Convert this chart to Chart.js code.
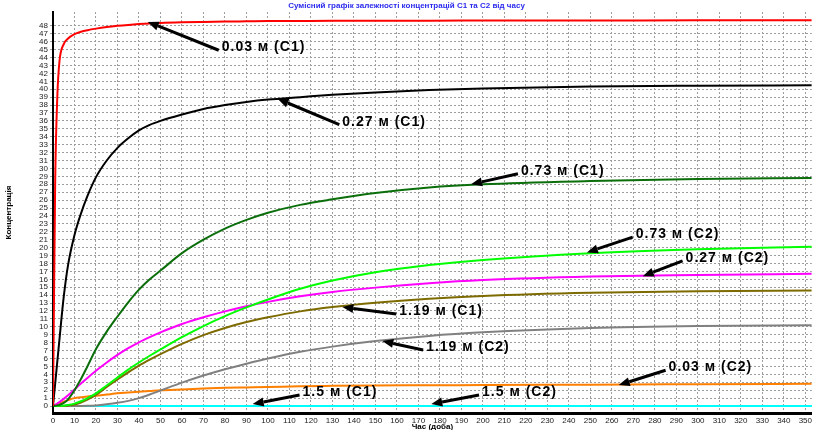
<!DOCTYPE html>
<html>
<head>
<meta charset="utf-8">
<script src="https://cdn.jsdelivr.net/npm/chart.js"></script>
<style>
  html, body { margin: 0; padding: 0; background: #fff; }
  #wrap { width: 813px; height: 430px; }
</style>
</head>
<body>
<div id="wrap"><canvas id="chart" width="813" height="430"></canvas></div>
<script>
// time points (days)
const days = [0, 1, 2, 3, 5, 7, 10, 13, 16, 20, 25, 30, 35, 40, 45, 50, 60, 70, 80, 90, 100, 115, 130, 150, 175, 200, 250, 300, 353];

// concentration curves
const c1_003 = [0, 28, 39, 43.5, 45.7, 46.4, 46.95, 47.25, 47.45, 47.65, 47.85, 48, 48.12, 48.22, 48.3, 48.37, 48.45, 48.5, 48.54, 48.57, 48.6, 48.62, 48.64, 48.65, 48.66, 48.67, 48.68, 48.7, 48.7];
const c1_027 = [0, 2.8, 5.6, 8.4, 13.8, 17.8, 21.6, 24.3, 26.5, 28.9, 31, 32.6, 33.8, 34.8, 35.5, 36, 36.8, 37.5, 38, 38.4, 38.7, 39, 39.3, 39.6, 39.9, 40.1, 40.35, 40.45, 40.5];
const c1_073 = [0, 0.03, 0.08, 0.15, 0.4, 0.85, 2, 3.4, 5, 7.2, 9.4, 11.3, 13.1, 14.7, 16, 17.1, 19.3, 21, 22.4, 23.5, 24.4, 25.4, 26.1, 26.9, 27.6, 28, 28.4, 28.65, 28.8];
const c2_073 = [0, 0, 0.01, 0.02, 0.05, 0.12, 0.3, 0.6, 1, 1.6, 2.6, 3.6, 4.6, 5.5, 6.35, 7.15, 8.7, 10.1, 11.35, 12.45, 13.45, 14.8, 15.85, 16.9, 17.8, 18.45, 19.3, 19.8, 20.1];
const c2_027 = [0, 0.15, 0.32, 0.5, 0.9, 1.35, 2.1, 2.85, 3.55, 4.45, 5.5, 6.45, 7.3, 8.05, 8.7, 9.3, 10.35, 11.2, 11.95, 12.6, 13.15, 13.85, 14.4, 14.95, 15.5, 15.9, 16.35, 16.55, 16.7];
const c1_119 = [0, 0, 0, 0, 0.03, 0.08, 0.2, 0.45, 0.8, 1.4, 2.4, 3.35, 4.25, 5.1, 5.85, 6.55, 7.85, 8.95, 9.85, 10.6, 11.2, 11.95, 12.5, 13.05, 13.55, 13.9, 14.3, 14.5, 14.6];
const c2_119 = [0, 0, 0, 0, 0, 0, 0, 0, 0.02, 0.08, 0.22, 0.4, 0.65, 1, 1.45, 1.95, 2.95, 3.85, 4.65, 5.35, 6, 6.85, 7.5, 8.2, 8.85, 9.3, 9.85, 10.1, 10.2];
const c2_003 = [0, 0.12, 0.25, 0.35, 0.55, 0.75, 1, 1.1, 1.2, 1.3, 1.45, 1.6, 1.7, 1.8, 1.9, 2, 2.1, 2.2, 2.3, 2.35, 2.4, 2.5, 2.55, 2.6, 2.62, 2.65, 2.7, 2.75, 2.8];
const c1_15 = [0, 0, 0, 0, 0, 0, 0, 0, 0, 0, 0, 0, 0, 0, 0, 0, 0, 0, 0, 0, 0, 0, 0, 0, 0, 0, 0, 0, 0];
const c2_15 = [0, 0, 0, 0, 0, 0, 0, 0, 0, 0, 0, 0, 0, 0, 0, 0, 0, 0, 0, 0, 0, 0, 0, 0, 0, 0, 0, 0, 0];

// axis ticks
const xTicks = [0, 10, 20, 30, 40, 50, 60, 70, 80, 90, 100, 110, 120, 130, 140, 150, 160, 170, 180, 190, 200, 210, 220, 230, 240, 250, 260, 270, 280, 290, 300, 310, 320, 330, 340, 350];
const yTicks = [0, 1, 2, 3, 4, 5, 6, 7, 8, 9, 10, 11, 12, 13, 14, 15, 16, 17, 18, 19, 20, 21, 22, 23, 24, 25, 26, 27, 28, 29, 30, 31, 32, 33, 34, 35, 36, 37, 38, 39, 40, 41, 42, 43, 44, 45, 46, 47, 48];

// callout labels: text anchor [day, conc] and arrow tip [day, conc]
const callouts = [
  { text: '0.03 м (С1)', at: [78.5, 45.3], tip: [44.1, 48.5] },
  { text: '0.27 м (С1)', at: [134.6, 35.9], tip: [104.5, 38.8] },
  { text: '0.73 м (С1)', at: [217.7, 29.7], tip: [194.5, 28.0] },
  { text: '0.73 м (С2)', at: [271.1, 21.7], tip: [248.4, 19.4] },
  { text: '0.27 м (С2)', at: [294.3, 18.7], tip: [274.4, 16.4] },
  { text: '1.19 м (С1)', at: [161.1, 12.0], tip: [134.6, 12.5] },
  { text: '1.19 м (С2)', at: [173.6, 7.45], tip: [153.2, 8.2] },
  { text: '1.5 м (С1)', at: [116.1, 1.77], tip: [92.9, 0.25] },
  { text: '1.5 м (С2)', at: [199.6, 1.77], tip: [176, 0.25] },
  { text: '0.03 м (С2)', at: [286.4, 4.9], tip: [263.2, 2.65] }
];

function series(label, values, color) {
  return {
    label: label,
    data: days.map((d, i) => ({ x: d, y: values[i] })),
    borderColor: color,
    backgroundColor: color,
    borderWidth: 2,
    pointRadius: 0,
    cubicInterpolationMode: 'monotone',
    fill: false
  };
}

const calloutPlugin = {
  id: 'callouts',
  afterDatasetsDraw(chart) {
    const ctx = chart.ctx;
    const xs = chart.scales.x, ys = chart.scales.y;
    ctx.save();
    ctx.font = 'bold 14px "Liberation Sans", Arial, sans-serif';
    try { ctx.letterSpacing = '1px'; } catch (e) {}
    ctx.textBaseline = 'middle';
    ctx.fillStyle = '#000';
    ctx.strokeStyle = '#000';
    for (const c of callouts) {
      const tx = xs.getPixelForValue(c.at[0]);
      const ty = ys.getPixelForValue(c.at[1]);
      const px = xs.getPixelForValue(c.tip[0]);
      const py = ys.getPixelForValue(c.tip[1]);
      const sx = tx - 3, sy = ty + 3;
      const ang = Math.atan2(py - sy, px - sx);
      const head = 11, half = 4.5;
      const bx = px - head * Math.cos(ang), by = py - head * Math.sin(ang);
      ctx.lineWidth = 3;
      ctx.beginPath();
      ctx.moveTo(sx, sy);
      ctx.lineTo(bx, by);
      ctx.stroke();
      ctx.beginPath();
      ctx.moveTo(px, py);
      ctx.lineTo(bx + half * Math.sin(ang), by - half * Math.cos(ang));
      ctx.lineTo(bx - half * Math.sin(ang), by + half * Math.cos(ang));
      ctx.closePath();
      ctx.fill();
      ctx.fillText(c.text, tx, ty);
    }
    ctx.restore();
  }
};

const gridColor = '#9c9c9c';

new Chart(document.getElementById('chart').getContext('2d'), {
  type: 'line',
  data: {
    datasets: [
      series('0.03 м (С1)', c1_003, '#ff0000'),
      series('0.27 м (С1)', c1_027, '#000000'),
      series('0.73 м (С1)', c1_073, '#0a6e0a'),
      series('0.73 м (С2)', c2_073, '#00ff00'),
      series('0.27 м (С2)', c2_027, '#ff00ff'),
      series('1.19 м (С1)', c1_119, '#7d6b00'),
      series('1.19 м (С2)', c2_119, '#808080'),
      series('0.03 м (С2)', c2_003, '#ff7f00'),
      series('1.5 м (С1)', c1_15, '#00ffff'),
      series('1.5 м (С2)', c2_15, '#00ffff')
    ]
  },
  options: {
    responsive: false,
    animation: false,
    layout: { padding: 0 },
    plugins: {
      legend: { display: false },
      tooltip: { enabled: false },
      title: {
        display: true,
        text: 'Сумісний графік залежності концентрацій С1 та С2 від часу',
        color: '#2a2aee',
        font: { family: 'Arial, "Liberation Sans", sans-serif', size: 8 },
        padding: { top: 1, bottom: 1.4 }
      }
    },
    scales: {
      x: {
        type: 'linear',
        min: 0,
        max: 353,
        afterBuildTicks: s => { s.ticks = xTicks.map(v => ({ value: v })); },
        afterFit: s => { s.height = 17; },
        ticks: {
          autoSkip: false,
          maxRotation: 0,
          padding: 1,
          color: '#222',
          font: { family: 'Arial, "Liberation Sans", sans-serif', size: 8 }
        },
        grid: { color: gridColor, lineWidth: 1, tickLength: 2 },
        border: { display: true, color: '#000', width: 3, dash: [2, 2] },
        title: {
          display: true,
          text: 'Час (доба)',
          color: '#000',
          font: { family: 'Arial, "Liberation Sans", sans-serif', size: 8, weight: 'bold' },
          padding: { top: 0, bottom: -2 }
        }
      },
      y: {
        type: 'linear',
        min: -0.88,
        max: 49.75,
        afterBuildTicks: s => { s.ticks = yTicks.map(v => ({ value: v })); },
        afterFit: s => { s.width = 53; },
        ticks: {
          autoSkip: false,
          padding: 2,
          color: '#222',
          font: { family: 'Arial, "Liberation Sans", sans-serif', size: 8 }
        },
        grid: { color: gridColor, lineWidth: 1, tickLength: 3 },
        border: { display: true, color: '#000', width: 2, dash: [2, 2] },
        title: {
          display: true,
          text: 'Концентрація',
          color: '#000',
          font: { family: 'Arial, "Liberation Sans", sans-serif', size: 8, weight: 'bold' },
          padding: { top: 4, bottom: 0 }
        }
      }
    }
  },
  plugins: [calloutPlugin]
});
</script>
</body>
</html>
